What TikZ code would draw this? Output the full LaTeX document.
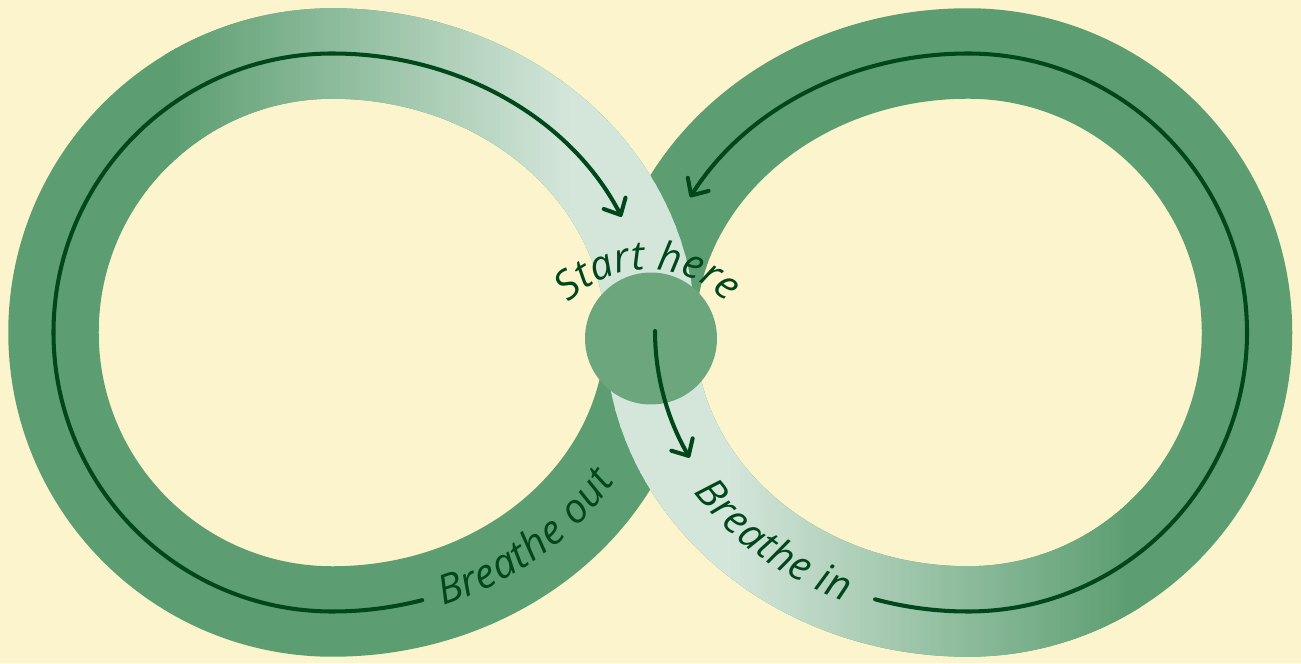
\documentclass[tikz,border=0pt]{standalone}
\usepackage{fontspec}
\newfontfamily\handfont{Open Sans}
\usepackage{tikz}
\usetikzlibrary{arrows.meta,decorations.text,calc}
\definecolor{cream}{HTML}{FCF4CD}
\definecolor{bandgreen}{HTML}{5C9E71}
\definecolor{bandlight}{HTML}{D4E6DA}
\definecolor{dotgreen}{HTML}{6BA67D}
\definecolor{inkgreen}{HTML}{00471B}
\newcommand{\handtext}{\handfont\itshape\fontsize{23}{26}\selectfont}

\tikzset{
  band/.style={draw=bandgreen, line width=1.81cm},
  flowline/.style={draw=inkgreen, line width=2.3pt, line cap=round,
    -{Straight Barb[length=7.5pt,width=14pt,round]}},
  bandtext/.style={decorate, decoration={text along path, text align=center,
    text color=inkgreen, raise=-0.22cm}}
}

\begin{document}
\begin{tikzpicture}[x=0.02cm, y=0.02cm]
  \path[use as bounding box, fill=cream] (0,0) rectangle (1301,663);
  \coordinate (lc) at (332.5,330.5);
  \coordinate (rc) at (968,330.5);
  \coordinate (mid) at (650.25,330.5);

  % figure eight, plain green
  \draw[band] ($(lc)+(180:279)$) arc[start angle=180, end angle=90, radius=279]
    arc[start angle=90, end angle=0, x radius=317.75, y radius=279]
    arc[start angle=180, end angle=270, x radius=317.75, y radius=279]
    arc[start angle=270, end angle=450, radius=279]
    arc[start angle=90, end angle=180, x radius=317.75, y radius=279]
    arc[start angle=0, end angle=-90, x radius=317.75, y radius=279]
    arc[start angle=270, end angle=180, radius=279] -- cycle;

  % light stretch on top, coloured slice by slice
  \foreach \sx in {165,170,...,1135}{
    \pgfmathtruncatemacro\mixv{100*max(0,min(1,(\sx+2.5-170)/400,(1130-\sx-2.5)/400))}
    \begin{scope}
      \clip (\sx,0) rectangle (\sx+6,663);
      \draw[band, draw=bandlight!\mixv!bandgreen] ($(lc)+(180:279)$)
        arc[start angle=180, end angle=90, radius=279]
        arc[start angle=90, end angle=0, x radius=317.75, y radius=279]
        arc[start angle=180, end angle=270, x radius=317.75, y radius=279]
        arc[start angle=270, end angle=360, radius=279];
    \end{scope}
  }

  % arrow round the left loop
  \draw[flowline] ($(lc)+(-73.6:317.75 and 279)$)
    arc[start angle=-73.6, end angle=-90, x radius=317.75, y radius=279]
    arc[start angle=270, end angle=90, radius=279]
    arc[start angle=90, end angle=24.5, x radius=317.75, y radius=279];
  % arrow round the right loop
  \draw[flowline] ($(rc)+(253:317.75 and 279)$)
    arc[start angle=253, end angle=270, x radius=317.75, y radius=279]
    arc[start angle=270, end angle=450, radius=279]
    arc[start angle=90, end angle=151, x radius=317.75, y radius=279];

  % start dot
  \node[circle, fill=dotgreen, minimum size=2.64cm, inner sep=0pt] (start) at (651,324.5) {};
  \coordinate (downstart) at (655,332);
  \draw[flowline] (downstart) arc[start angle=180, end angle=207, x radius=317.75, y radius=279];

  % labels
  \coordinate (textc) at (648,282.3);
  \path[bandtext, decoration={text={|\handtext|Start here}, raise=0pt}]
    ($(textc)+(150:111)$) arc[start angle=150, end angle=30, radius=111];
  \path[bandtext, decoration={text={|\handtext|Breathe out}}]
    ($(lc)+(-80:317.75 and 279)$) arc[start angle=-80, end angle=-20, x radius=317.75, y radius=279];
  \path[bandtext, decoration={text={|\handtext|Breathe in}}]
    ($(rc)+(200:317.75 and 279)$) arc[start angle=200, end angle=260, x radius=317.75, y radius=279];
\end{tikzpicture}
\end{document}
